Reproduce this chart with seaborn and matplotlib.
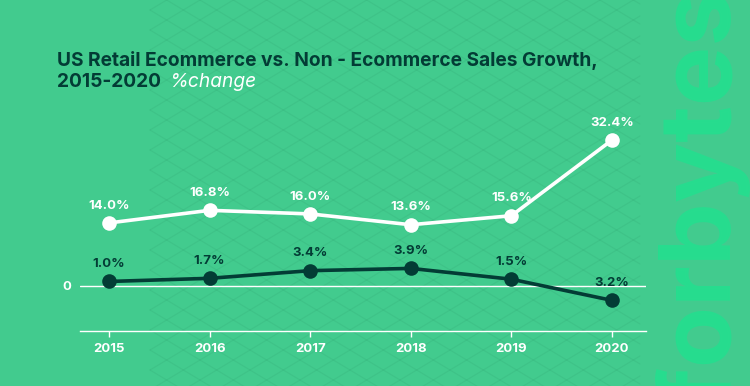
import numpy as np
import pandas as pd
import matplotlib.pyplot as plt
import seaborn as sns

# data
years = [2015, 2016, 2017, 2018, 2019, 2020]
ecommerce = [14.0, 16.8, 16.0, 13.6, 15.6, 32.4]
non_ecommerce = [1.0, 1.7, 3.4, 3.9, 1.5, -3.2]
eco_labels = ['14.0%', '16.8%', '16.0%', '13.6%', '15.6%', '32.4%']
non_labels = ['1.0%', '1.7%', '3.4%', '3.9%', '1.5%', '3.2%']

bg = '#42cb8e'
dark = '#033c35'
brand = '#22e08f'

df = pd.DataFrame({
    'year': years * 2,
    'value': ecommerce + non_ecommerce,
    'series': ['Ecommerce'] * 6 + ['Non-Ecommerce'] * 6,
})

sns.set_theme(style='white')
plt.rcParams['font.family'] = ['Inter', 'DejaVu Sans']

fig = plt.figure(figsize=(7.5, 3.86), dpi=100)
fig.patch.set_facecolor(bg)

# faint diamond lattice in the background
bgax = fig.add_axes([0, 0, 1, 1])
bgax.set_xlim(0, 750)
bgax.set_ylim(386, 0)
bgax.axis('off')
xs = np.array([150, 640])
for c in np.arange(-600, 800, 20):
    bgax.plot(xs, c + 0.6 * xs, color='#1c6b4c', lw=0.8, alpha=0.09)
    bgax.plot(xs, c - 0.6 * xs + 400, color='#1c6b4c', lw=0.8, alpha=0.09)

# watermark
fig.text(1.0, 0.49, 'forbytes', rotation=90, ha='right', va='center',
         fontsize=72, fontweight='bold', color=brand, alpha=0.85)

ax = fig.add_axes([80 / 750, 1 - 331 / 386, 566 / 750, 231 / 386])
ax.set_facecolor('none')
sns.lineplot(data=df, x='year', y='value', hue='series',
             palette={'Ecommerce': 'white', 'Non-Ecommerce': dark},
             marker='o', markersize=10.5, markeredgewidth=0, linewidth=2.6,
             legend=False, ax=ax)

for x, y, t in zip(years, ecommerce, eco_labels):
    ax.annotate(t, (x, y), xytext=(0, 12.5), textcoords='offset points',
                ha='center', va='center', fontsize=9.5, fontweight='bold', color='white')
for x, y, t in zip(years, non_ecommerce, non_labels):
    ax.annotate(t, (x, y), xytext=(0, 12.5), textcoords='offset points',
                ha='center', va='center', fontsize=9.5, fontweight='bold', color=dark)

ax.axhline(0, color='white', lw=1, zorder=0)
ax.set_xlim(2014.712, 2020.338)
ax.set_ylim(-10, 41.3)
ax.set_xticks(years)
ax.set_xticklabels([str(y) for y in years])
ax.set_yticks([0])
ax.set_yticklabels(['0'])
ax.set_xlabel('')
ax.set_ylabel('')
for s in ['top', 'right', 'left']:
    ax.spines[s].set_visible(False)
ax.spines['bottom'].set_color('white')
ax.spines['bottom'].set_linewidth(1)
ax.tick_params(axis='x', colors='white', length=4, width=1, pad=5, bottom=True,
               labelsize=9.5)
ax.tick_params(axis='y', colors='white', length=0, pad=6, labelsize=9.5)
for lab in ax.get_xticklabels() + ax.get_yticklabels():
    lab.set_fontweight('bold')

fig.text(57 / 750, 1 - 60 / 386, 'US Retail Ecommerce vs. Non - Ecommerce Sales Growth,',
         fontsize=13.8, fontweight='bold', color=dark, va='center')
sub = fig.text(57 / 750, 1 - 82 / 386, '2015-2020', fontsize=13.8, fontweight='bold',
               color=dark, va='center')
fig.canvas.draw()
bb = sub.get_window_extent(renderer=fig.canvas.get_renderer())
fig.text((bb.x1 + 8) / 750, 1 - 82 / 386, '%change', fontsize=13.8, style='italic',
         color='white', va='center')

fig.savefig('out.png', dpi=100, facecolor=bg)
